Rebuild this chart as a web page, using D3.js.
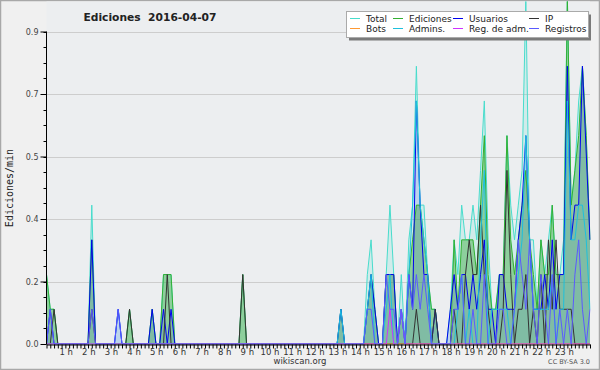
<!DOCTYPE html>
<html>
<head>
<meta charset="utf-8">
<script src="https://cdn.jsdelivr.net/npm/d3@7/dist/d3.min.js"></script>
<style>
  body { margin: 0; background: #fff; }
  svg { display: block; }
</style>
</head>
<body>
<script>
//////////////////////
// DATA (10 min buckets, edits per minute)
const hourLabels = ["1 h","2 h","3 h","4 h","5 h","6 h","7 h","8 h","9 h","10 h","11 h","12 h",
                    "13 h","14 h","15 h","16 h","17 h","18 h","19 h","20 h","21 h","22 h","23 h"];
const yTicks = [0, 0.18, 0.36, 0.54, 0.72, 0.9];

// values are written as sparse index:value pairs and expanded to 145 points
const totalPts = {0:.2,1:.1,2:.1,12:.4,19:.1,22:.1,28:.1,31:.2,32:.2,33:.2,52:.2,78:.1,
  85:.2,86:.3,87:.1,90:.2,91:.4,92:.2,94:.2,96:.3,97:.4,98:.8,99:.4,100:.4,101:.2,102:.1,103:.1,
  107:.1,108:.3,109:.2,110:.4,111:.3,112:.3,113:.4,114:.3,115:.5,116:.7,117:.3,118:.1,119:.1,
  120:.2,121:.2,122:.6,123:.4,124:.3,125:.4,126:.5,127:1.0,128:.3,129:.3,130:.1,131:.3,132:.2,133:.3,
  134:.4,135:.2,136:.2,137:.3,138:1.0,139:.4,140:.5,141:.7,142:.8,143:.6,144:.3};
const edicionesPts = {0:.2,1:.1,2:.1,12:.3,22:.1,28:.1,31:.2,32:.2,33:.2,52:.2,78:.1,
  85:.1,86:.2,87:.1,90:.2,91:.2,92:.2,94:.1,96:.2,97:.3,98:.4,99:.4,100:.3,101:.2,102:.1,103:.1,
  108:.3,109:.1,110:.3,111:.3,112:.3,113:.3,114:.2,115:.4,116:.6,117:.2,118:.1,119:.1,
  120:.2,121:.2,122:.6,123:.3,124:.2,125:.3,126:.4,127:.5,128:.3,129:.2,130:.1,131:.3,132:.2,133:.2,
  134:.4,135:.2,136:.2,137:.2,138:1.0,139:.4,140:.5,141:.6,142:.8,143:.6,144:.3};
const usuariosPts = {1:.1,12:.3,19:.1,28:.1,31:.1,33:.1,78:.1,
  85:.1,86:.2,87:.1,90:.2,91:.2,92:.2,94:.1,96:.2,97:.1,98:.7,99:.4,100:.2,101:.2,103:.1,
  107:.1,108:.2,109:.1,110:.2,111:.2,112:.1,113:.2,114:.1,115:.2,116:.3,117:.1,118:.1,
  120:.2,121:.2,122:.1,123:.1,124:.1,125:.3,126:.4,127:.6,128:.3,129:.1,130:.1,131:.1,132:.2,133:.1,
  134:.3,135:.1,136:.2,137:.2,138:.8,139:.3,140:.4,141:.4,142:.8,143:.55,144:.3};
const ipPts = {2:.1,12:.1,22:.1,32:.2,52:.2,
  98:.1,103:.1,108:.1,111:.2,112:.3,113:.2,114:.2,115:.4,116:.2,117:.1,121:.1,122:.5,123:.2,
  125:.1,126:.1,127:.2,129:.1,131:.2,133:.3,134:.1,135:.3,136:.1,137:.1,138:.1,139:.1};
const botsPts = {};
const adminsPts = {78:.1,85:.1,86:.2,90:.1,91:.2,94:.1,96:.2,97:.4,98:.7,99:.4,100:.3,101:.2,
  109:.1,110:.2,112:.1,115:.3,116:.5,118:.1,119:.1,120:.1,121:.1,122:.1,124:.1,125:.2,126:.3,
  127:.6,128:.3,129:.1,130:.1,131:.1,132:.1,133:.1,134:.2,136:.1,137:.1,138:.7,139:.3,140:.3,
  141:.4,142:.4,143:.3,144:.1};
const regAdmPts = {91:.1,94:.1};
const registrosPts = {1:.1,12:.1,19:.1,85:.1,86:.1,90:.2,91:.1,92:.1,94:.1,96:.2,97:.1,98:.2,
  99:.1,100:.2,101:.1,108:.1,109:.1,110:.2,113:.1,116:.2,120:.1,121:.1,124:.1,
  125:.3,126:.2,127:.1,128:.3,129:.1,131:.2,132:.1,134:.2,136:.1,138:.1,140:.2,141:.3,142:.1,144:.1};
//////////////////////

const w = 600;
const h = 370;
const N = 145;

function expand(pts) {
  const out = [];
  for (let i = 0; i < N; i++) out.push(pts[i] !== undefined ? pts[i] : 0);
  return out;
}

// draw order: back to front
const series = [
  { name: "Total",        color: "#48dccc", fill: "rgba(64,224,208,0.16)", values: expand(totalPts) },
  { name: "Ediciones",    color: "#33b033", fill: "rgba(40,165,40,0.40)", values: expand(edicionesPts) },
  { name: "Usuarios",     color: "#0000ee", fill: "rgba(0,0,255,0.09)", values: expand(usuariosPts) },
  { name: "IP",           color: "#333333", fill: null, values: expand(ipPts) },
  { name: "Bots",         color: "#ff9933", fill: null, values: expand(botsPts) },
  { name: "Admins.",      color: "#1ec0dc", fill: null, values: expand(adminsPts) },
  { name: "Reg. de adm.", color: "#cc33ff", fill: null, values: expand(regAdmPts) },
  { name: "Registros",    color: "#5a5aff", fill: null, values: expand(registrosPts) }
];
const legendOrder = ["Total","Ediciones","Usuarios","IP","Bots","Admins.","Reg. de adm.","Registros"];

let svg = d3.select("body")
  .append("svg")
  .attr("width", w)
  .attr("height", h);

// background + frame
svg.append("rect").attr("width", w).attr("height", h).attr("fill", "#f0f0f0");
svg.append("rect").attr("x", 0.5).attr("y", 0.5).attr("width", w - 1).attr("height", h - 1)
  .attr("fill", "none").attr("stroke", "#a8a8a8").attr("stroke-width", 1.5);

let xScale = d3.scaleLinear().domain([0, N - 1]).range([46.5, 590]);
let yScale = d3.scaleLinear().domain([0, 0.9]).range([344, 31.5]);

// plot area
svg.append("rect")
  .attr("x", 46.5).attr("y", 1.5)
  .attr("width", 590 - 46.5).attr("height", 344 - 1.5)
  .attr("fill", "#eceef0");

// grid lines
svg.selectAll("line.grid")
  .data(yTicks.slice(1))
  .enter()
  .append("line")
  .attr("class", "grid")
  .attr("x1", 47).attr("x2", 590)
  .attr("y1", d => Math.round(yScale(d)) + 0.5)
  .attr("y2", d => Math.round(yScale(d)) + 0.5)
  .attr("stroke", "#cdcdcd");

// clip for the series
svg.append("clipPath").attr("id", "clip")
  .append("rect").attr("x", 46.5).attr("y", 1.5).attr("width", 544).attr("height", 343);

let plot = svg.append("g").attr("clip-path", "url(#clip)");

let area = d3.area()
  .x((d, i) => xScale(i))
  .y0(yScale(0))
  .y1(d => yScale(d));
let line = d3.line()
  .x((d, i) => xScale(i))
  .y(d => yScale(d));

series.filter(s => s.fill).forEach(s => {
  plot.append("path")
    .attr("d", area(s.values))
    .attr("fill", s.fill);
});
series.forEach(s => {
  plot.append("path")
    .attr("d", line(s.values))
    .attr("fill", "none")
    .attr("stroke", s.color)
    .attr("stroke-width", 1)
    .attr("stroke-linejoin", "miter");
});

// y axis
let yAxis = d3.axisLeft(yScale)
  .tickValues(yTicks)
  .tickFormat(d3.format(".1f"))
  .tickSize(6)
  .tickPadding(2);
let gy = svg.append("g")
  .attr("transform", "translate(46.5,0)")
  .call(yAxis);
gy.select(".domain").attr("stroke", "#000").attr("d", "M0," + yScale(0.9) + "V" + yScale(0));
gy.selectAll("text").attr("font-family", "DejaVu Sans").attr("font-size", 8).attr("fill", "#444");

// minor y ticks
svg.selectAll("line.ymin")
  .data(d3.range(0, 21).map(k => k * 0.045))
  .enter()
  .append("line")
  .attr("x1", 43.5).attr("x2", 46.5)
  .attr("y1", d => Math.round(yScale(d)) + 0.5)
  .attr("y2", d => Math.round(yScale(d)) + 0.5)
  .attr("stroke", "#000");

// x axis with a tick at every point
let xAxis = d3.axisBottom(xScale)
  .tickValues(d3.range(0, N))
  .tickFormat("")
  .tickSize(4)
  .tickSizeOuter(0);
let gx = svg.append("g")
  .attr("transform", "translate(0,344.5)")
  .call(xAxis);
gx.select(".domain").attr("stroke", "#000");

svg.selectAll("text.hour")
  .data(hourLabels)
  .enter()
  .append("text")
  .attr("class", "hour")
  .attr("x", (d, i) => xScale((i + 1) * 6) - 3)
  .attr("y", 355)
  .attr("text-anchor", "middle")
  .attr("font-family", "DejaVu Sans")
  .attr("font-size", 8.5)
  .attr("fill", "#333")
  .text(d => d);

// titles
svg.append("text")
  .attr("x", 150).attr("y", 21)
  .attr("text-anchor", "middle")
  .attr("font-family", "DejaVu Sans")
  .attr("font-weight", "bold")
  .attr("font-size", 10.7)
  .attr("fill", "#222")
  .attr("xml:space", "preserve")
  .text("Ediciones  2016-04-07");

svg.append("text")
  .attr("transform", "translate(13,188) rotate(-90)")
  .attr("text-anchor", "middle")
  .attr("font-family", "DejaVu Sans Mono")
  .attr("font-size", 10)
  .attr("fill", "#222")
  .text("Ediciones/min");

svg.append("text")
  .attr("x", 300).attr("y", 364)
  .attr("text-anchor", "middle")
  .attr("font-family", "DejaVu Sans")
  .attr("font-size", 8.5)
  .attr("fill", "#333")
  .text("wikiscan.org");

svg.append("text")
  .attr("x", 590).attr("y", 364)
  .attr("text-anchor", "end")
  .attr("font-family", "DejaVu Sans")
  .attr("font-size", 6.5)
  .attr("fill", "#555")
  .text("CC BY-SA 3.0");

// legend
let legend = svg.append("g");
legend.append("rect")
  .attr("x", 349).attr("y", 14.5).attr("width", 242).attr("height", 26)
  .attr("fill", "#7a7a7a");
legend.append("rect")
  .attr("x", 346.5).attr("y", 11.5).attr("width", 242).attr("height", 26)
  .attr("fill", "#fff").attr("stroke", "#aaa");

const colX = [350, 393, 453, 529];
const rowY = [18.5, 28.5];
legendOrder.forEach((name, k) => {
  const s = series.find(d => d.name === name);
  const cx = colX[k % 4], cy = rowY[Math.floor(k / 4)];
  legend.append("line")
    .attr("x1", cx).attr("x2", cx + 10)
    .attr("y1", cy).attr("y2", cy)
    .attr("stroke", s.color).attr("stroke-width", 1);
  legend.append("text")
    .attr("x", cx + 16).attr("y", cy + 3.3)
    .attr("font-family", "DejaVu Sans")
    .attr("font-size", 9)
    .attr("fill", "#222")
    .text(name);
});
</script>
</body>
</html>
